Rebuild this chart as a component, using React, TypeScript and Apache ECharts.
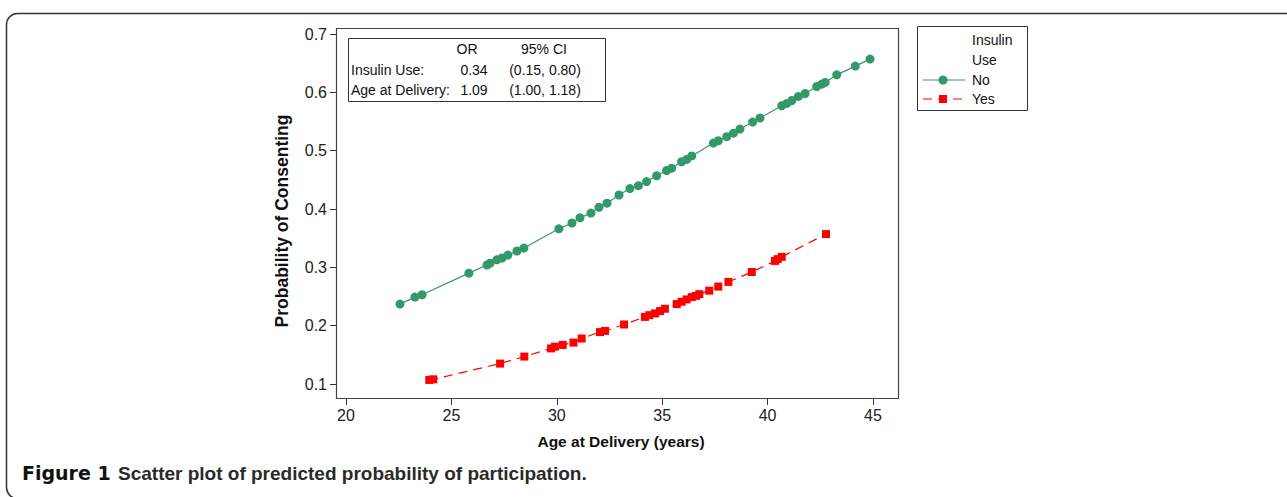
import React, { useEffect, useRef } from "react";
import * as echarts from "echarts";

const xTicks = [20, 25, 30, 35, 40, 45];
const yTicks = [0.1, 0.2, 0.3, 0.4, 0.5, 0.6, 0.7];

const noAge = [22.56, 23.27, 23.61, 25.83, 26.69, 26.83, 27.16, 27.4, 27.68, 28.11, 28.44, 30.1, 30.72, 31.1, 31.62, 32.0, 32.38, 32.95, 33.47, 33.87, 34.26, 34.74, 35.21, 35.45, 35.92, 36.16, 36.4, 37.43, 37.66, 38.06, 38.38, 38.69, 39.29, 39.64, 40.67, 40.91, 41.15, 41.46, 41.78, 42.33, 42.57, 42.73, 43.28, 44.16, 44.86];
const noProb = [0.237, 0.249, 0.253, 0.29, 0.304, 0.307, 0.313, 0.316, 0.321, 0.328, 0.333, 0.366, 0.376, 0.385, 0.393, 0.403, 0.41, 0.424, 0.435, 0.44, 0.447, 0.457, 0.466, 0.47, 0.481, 0.485, 0.491, 0.513, 0.517, 0.524, 0.53, 0.537, 0.549, 0.556, 0.577, 0.581, 0.586, 0.593, 0.598, 0.61, 0.614, 0.617, 0.63, 0.645, 0.657];

const yesAge = [23.95, 24.14, 27.31, 28.46, 29.73, 29.91, 30.28, 30.79, 31.18, 32.05, 32.29, 33.19, 34.18, 34.39, 34.66, 34.9, 35.13, 35.69, 35.92, 36.16, 36.4, 36.6, 36.76, 37.23, 37.66, 38.14, 39.25, 40.35, 40.48, 40.67, 42.77];
const yesProb = [0.107, 0.108, 0.135, 0.147, 0.161, 0.164, 0.167, 0.171, 0.178, 0.189, 0.191, 0.202, 0.215, 0.218, 0.221, 0.225, 0.229, 0.237, 0.241, 0.245, 0.249, 0.251, 0.254, 0.26, 0.267, 0.275, 0.292, 0.311, 0.314, 0.318, 0.357];

const seriesNames = ["No", "Yes"];
const legendTitle = ["Insulin", "Use"];
const tableHeader = ["OR", "95% CI"];
const tableRows = [
  ["Insulin Use:", "0.34", "(0.15, 0.80)"],
  ["Age at Delivery:", "1.09", "(1.00, 1.18)"],
];

const GREEN = "#33996a";
const RED = "#ff0000";
const FONT = "'Liberation Sans', Arial, Helvetica, sans-serif";

export default function App() {
  const ref = useRef<HTMLDivElement>(null);
  useEffect(() => {
    if (!ref.current) return;
    const chart = echarts.init(ref.current, null, { renderer: "svg" });
    const noData = noAge.map((a, i) => [a, noProb[i]]);
    const yesData = yesAge.map((a, i) => [a, yesProb[i]]);

    const rowY = [49, 70, 90];
    const tableTexts: any[] = [];
    tableTexts.push({ type: "text", x: 467, y: rowY[0], style: { text: tableHeader[0], font: `14px ${FONT}`, fill: "#111", align: "center", verticalAlign: "middle" } });
    tableTexts.push({ type: "text", x: 544, y: rowY[0], style: { text: tableHeader[1], font: `14px ${FONT}`, fill: "#111", align: "center", verticalAlign: "middle" } });
    tableRows.forEach((r, i) => {
      tableTexts.push({ type: "text", x: 351, y: rowY[i + 1], style: { text: r[0], font: `14px ${FONT}`, fill: "#111", align: "left", verticalAlign: "middle" } });
      tableTexts.push({ type: "text", x: 474, y: rowY[i + 1], style: { text: r[1], font: `14px ${FONT}`, fill: "#111", align: "center", verticalAlign: "middle" } });
      tableTexts.push({ type: "text", x: 545, y: rowY[i + 1], style: { text: r[2], font: `14px ${FONT}`, fill: "#111", align: "center", verticalAlign: "middle" } });
    });

    chart.setOption({
      animation: false,
      backgroundColor: "#ffffff",
      grid: { left: 346, right: 1287 - 873, top: 34, bottom: 497 - 384, containLabel: false },
      xAxis: {
        type: "value",
        min: xTicks[0],
        max: xTicks[xTicks.length - 1],
        interval: 5,
        offset: 15,
        axisLine: { show: false },
        axisTick: { show: true, length: 6, lineStyle: { color: "#333", width: 1 } },
        axisLabel: { fontSize: 16, fontFamily: FONT, color: "#222", margin: 8 },
        splitLine: { show: false },
      },
      yAxis: {
        type: "value",
        min: yTicks[0],
        max: yTicks[yTicks.length - 1],
        interval: 0.1,
        offset: 10,
        axisLine: { show: false },
        axisTick: { show: true, length: 6, lineStyle: { color: "#333", width: 1 } },
        axisLabel: { fontSize: 16, fontFamily: FONT, color: "#222", margin: 9, formatter: (v: number) => v.toFixed(1) },
        splitLine: { show: false },
      },
      series: [
        {
          name: seriesNames[0],
          type: "line",
          data: noData,
          showAllSymbol: true,
          symbol: "circle",
          symbolSize: 9,
          itemStyle: { color: GREEN },
          lineStyle: { color: GREEN, width: 1.2 },
          z: 3,
        },
        {
          name: seriesNames[1],
          type: "line",
          data: yesData,
          showAllSymbol: true,
          symbol: "rect",
          symbolSize: 8,
          itemStyle: { color: RED },
          lineStyle: { color: RED, width: 1.2, type: [9, 6] },
          z: 3,
        },
      ],
      graphic: [
        // outer rounded figure border
        { type: "rect", shape: { x: 6.5, y: 13.5, width: 1400, height: 485, r: 11 }, style: { fill: "none", stroke: "#333", lineWidth: 1.5 }, z: 0 },
        // plot frame
        { type: "rect", shape: { x: 336.5, y: 28.5, width: 562, height: 370 }, style: { fill: "none", stroke: "#444", lineWidth: 1.2 }, z: 1 },
        // annotation box
        { type: "rect", shape: { x: 348.5, y: 38.5, width: 257, height: 63 }, style: { fill: "#fff", stroke: "#333", lineWidth: 1 }, z: 2 },
        ...tableTexts.map((t) => ({ ...t, z: 4 })),
        // legend box
        { type: "rect", shape: { x: 917.5, y: 26.5, width: 110, height: 84 }, style: { fill: "#fff", stroke: "#333", lineWidth: 1 }, z: 2 },
        { type: "text", x: 972, y: 40, style: { text: legendTitle[0], font: `14px ${FONT}`, fill: "#111", verticalAlign: "middle" }, z: 4 },
        { type: "text", x: 972, y: 60, style: { text: legendTitle[1], font: `14px ${FONT}`, fill: "#111", verticalAlign: "middle" }, z: 4 },
        { type: "line", shape: { x1: 923, y1: 80, x2: 965, y2: 80 }, style: { stroke: GREEN, lineWidth: 1.2 }, z: 4 },
        { type: "circle", shape: { cx: 943, cy: 80, r: 4.5 }, style: { fill: GREEN }, z: 5 },
        { type: "text", x: 972, y: 80, style: { text: seriesNames[0], font: `14px ${FONT}`, fill: "#111", verticalAlign: "middle" }, z: 4 },
        { type: "line", shape: { x1: 923, y1: 99, x2: 965, y2: 99 }, style: { stroke: RED, lineWidth: 1.2, lineDash: [9, 6] }, z: 4 },
        { type: "rect", shape: { x: 939, y: 95, width: 8, height: 8 }, style: { fill: RED }, z: 5 },
        { type: "text", x: 972, y: 99, style: { text: seriesNames[1], font: `14px ${FONT}`, fill: "#111", verticalAlign: "middle" }, z: 4 },
        // axis titles
        { type: "text", x: 621, y: 441, style: { text: "Age at Delivery (years)", font: `bold 15.5px ${FONT}`, fill: "#111", align: "center", verticalAlign: "middle" }, z: 4 },
        { type: "text", x: 282, y: 221, rotation: Math.PI / 2, style: { text: "Probability of Consenting", font: `bold 17.5px ${FONT}`, fill: "#111", align: "center", verticalAlign: "middle" }, z: 4 },
        // caption
        { type: "text", x: 22, y: 473, style: { text: "Figure 1", font: `bold 19px 'DejaVu Sans', ${FONT}`, fill: "#111", align: "left", verticalAlign: "middle" }, z: 4 },
        { type: "text", x: 118, y: 473, style: { text: "Scatter plot of predicted probability of participation.", font: `bold 19px ${FONT}`, fill: "#2a2a2a", align: "left", verticalAlign: "middle" }, z: 4 },
      ],
    });
    return () => chart.dispose();
  }, []);
  return <div ref={ref} style={{ position: "absolute", left: 0, top: 0, width: 1287, height: 497 }} />;
}
